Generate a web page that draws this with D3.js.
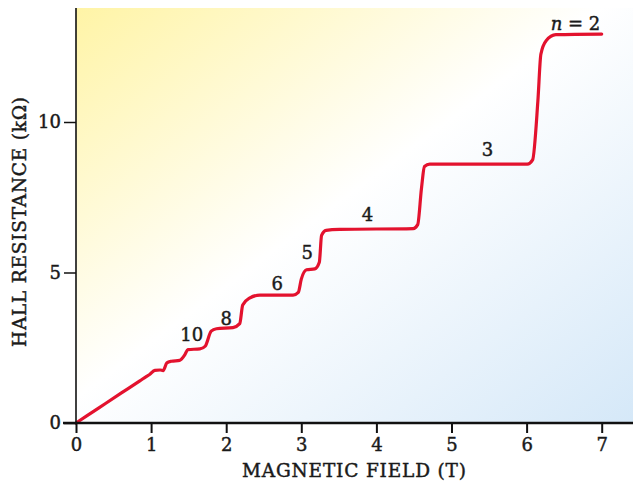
<!DOCTYPE html>
<html>
<head>
<meta charset="utf-8">
<script src="https://cdn.jsdelivr.net/npm/d3@7"></script>
<style>
  html, body { margin: 0; padding: 0; background: #ffffff; }
  svg { display: block; }
  text { font-family: "DejaVu Serif", serif; fill: #1a1a1a; stroke: #1a1a1a; stroke-width: 0.45px; }
</style>
</head>
<body>
<svg id="chart" width="633" height="488"></svg>
<script>
// Magnetic field (T)
const fieldB = [0, 0.3, 0.6, 0.85, 0.94, 0.98, 1.05, 1.12, 1.16, 1.21, 1.27, 1.38, 1.45, 1.49, 1.65, 1.72, 1.80, 1.87, 2.09, 2.18, 2.22, 2.31, 2.45, 2.89, 2.96, 3.0, 3.07, 3.18, 3.24, 3.27, 3.33, 3.51, 4.49, 4.55, 4.60, 4.64, 4.71, 6.01, 6.08, 6.15, 6.19, 6.26, 6.39, 7.0];
// Hall resistance (kΩ)
const hallR = [0, 0.495, 0.99, 1.40, 1.55, 1.61, 1.75, 1.76, 1.74, 2.0, 2.05, 2.08, 2.27, 2.44, 2.46, 2.55, 3.05, 3.13, 3.17, 3.3, 3.92, 4.15, 4.25, 4.25, 4.34, 4.78, 5.09, 5.12, 5.34, 6.23, 6.4, 6.43, 6.46, 6.59, 7.79, 8.52, 8.6, 8.6, 8.74, 10.69, 12.25, 12.7, 12.9, 12.92];
// plateau labels
const plateauLabels = ["10", "8", "6", "5", "4", "3", "2"];
const labelB = [1.54, 2.0, 2.68, 3.08, 3.88, 5.48, 6.65];
const labelR = [2.73, 3.27, 4.43, 5.45, 6.72, 8.87, 13.05];
const xTicks = [0, 1, 2, 3, 4, 5, 6, 7];
const yTicks = [0, 5, 10];

const svg = d3.select("#chart");
const mLeft = 76, mRight = 633, mTop = 8, mBottom = 423;

const x = d3.scaleLinear().domain([0, 7]).range([mLeft, mLeft + 7 * 75.1]);
const y = d3.scaleLinear().domain([0, 10]).range([mBottom, mBottom - 10 * 30.1]);

const defs = svg.append("defs");
const grad = defs.append("linearGradient").attr("id", "bg")
  .attr("x1", 0).attr("y1", 0).attr("x2", 1).attr("y2", 1);
grad.append("stop").attr("offset", 0).attr("stop-color", "#fff4a6");
grad.append("stop").attr("offset", 0.47).attr("stop-color", "#ffffff");
grad.append("stop").attr("offset", 1).attr("stop-color", "#d5e8f8");

svg.append("rect").attr("x", mLeft).attr("y", mTop)
  .attr("width", mRight - mLeft).attr("height", mBottom - mTop)
  .attr("fill", "url(#bg)");

// curve
const pts = fieldB.map((b, i) => [b, hallR[i]]);
const line = d3.line().x(d => x(d[0])).y(d => y(d[1])).curve(d3.curveMonotoneX);
svg.append("path").datum(pts).attr("d", line)
  .attr("fill", "none").attr("stroke", "#e3122e").attr("stroke-width", 3.2)
  .attr("stroke-linejoin", "round").attr("stroke-linecap", "round");

// axes
const xAxis = svg.append("g").attr("transform", `translate(0,${mBottom})`)
  .call(d3.axisBottom(x).tickValues(xTicks).tickFormat(d3.format("d")).tickSize(10).tickPadding(5));
xAxis.select(".domain").remove();
xAxis.selectAll(".tick line").attr("stroke", "#111").attr("stroke-width", 2);
xAxis.selectAll("text").attr("font-size", 18).attr("font-family", "DejaVu Serif").attr("fill", "#1a1a1a");

const yAxis = svg.append("g").attr("transform", `translate(${mLeft},0)`)
  .call(d3.axisLeft(y).tickValues(yTicks).tickFormat(d3.format("d")).tickSize(12).tickPadding(3));
yAxis.select(".domain").remove();
yAxis.selectAll(".tick line").attr("stroke", "#111").attr("stroke-width", 1.5);
yAxis.selectAll("text").attr("font-size", 18).attr("font-family", "DejaVu Serif").attr("fill", "#1a1a1a");

svg.append("line").attr("x1", mLeft).attr("x2", mLeft).attr("y1", mTop).attr("y2", mBottom)
  .attr("stroke", "#111").attr("stroke-width", 1.6);
svg.append("line").attr("x1", 63).attr("x2", mRight).attr("y1", mBottom).attr("y2", mBottom)
  .attr("stroke", "#111").attr("stroke-width", 2.4);

// titles
svg.append("text").attr("x", 354).attr("y", 477).attr("text-anchor", "middle")
  .attr("font-size", 18.5).attr("textLength", 224).text("MAGNETIC FIELD (T)");
svg.append("text").attr("transform", "translate(26,222) rotate(-90)")
  .attr("text-anchor", "middle").attr("font-size", 18.5).attr("textLength", 250).text("HALL RESISTANCE (kΩ)");

// plateau labels
plateauLabels.forEach((t, i) => {
  const tx = svg.append("text").attr("x", x(labelB[i])).attr("y", y(labelR[i]))
    .attr("text-anchor", "middle").attr("font-size", 18);
  if (t === "2") {
    tx.append("tspan").attr("font-style", "italic").text("n");
    tx.append("tspan").text(" = 2");
  } else {
    tx.text(t);
  }
});
</script>
</body>
</html>
